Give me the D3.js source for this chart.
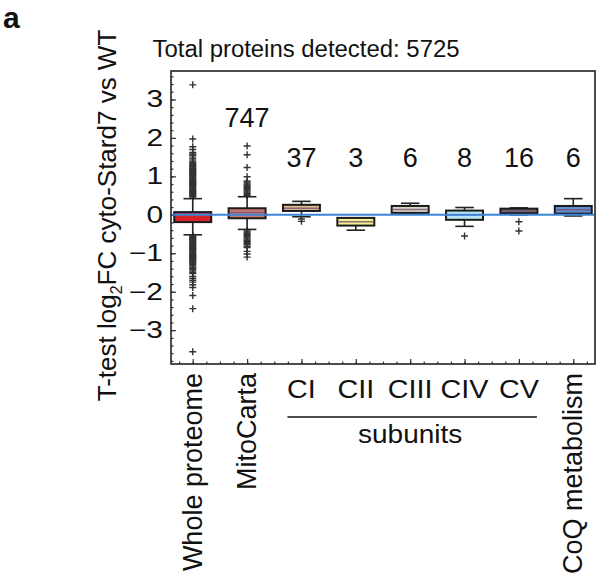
<!DOCTYPE html>
<html><head><meta charset="utf-8">
<script src="https://cdn.jsdelivr.net/npm/d3@7"></script>
<style>
body{margin:0;background:#fff;}
text{font-family:"Liberation Sans",Arial,sans-serif;fill:#111;}
</style></head>
<body><svg id="c" width="597" height="578"></svg>
<script>
// ---- data ----
const categories = ["Whole proteome","MitoCarta","CI","CII","CIII","CIV","CV","CoQ metabolism"];
const countLabels = ["", "747", "37", "3", "6", "8", "16", "6"];
const whiskerLow  = [-0.52, -0.38, -0.05, -0.40, 0.05, -0.30, 0.00, -0.03];
const q1          = [-0.19, -0.09,  0.10, -0.28, 0.05, -0.13, 0.04,  0.03];
const median      = [ 0.02,  0.06,  0.17, -0.18, 0.14,  0.00, 0.10,  0.13];
const q3          = [ 0.07,  0.17,  0.26, -0.08, 0.23,  0.11, 0.16,  0.23];
const whiskerHigh = [ 0.42,  0.47,  0.35, -0.08, 0.30,  0.19, 0.18,  0.42];
const boxColors   = ["#d8232a","#c97a6c","#dcc08a","#f3ee8f","#d9d7c4","#b9e4f4","#6a6a6a","#5f8fcc"];
const outliersWhole = [3.38,1.97,1.77,1.70,1.62,1.58,1.55,1.50,1.45,1.40,1.36,1.33,
  1.30,1.28,1.26,1.24,1.22,1.20,1.18,1.16,1.14,1.12,1.10,1.08,1.06,1.04,1.02,1.00,0.98,0.96,0.94,0.92,0.90,
  0.88,0.86,0.84,0.82,0.80,0.78,0.76,0.74,0.72,0.70,0.68,0.66,0.64,0.62,0.60,0.58,0.56,0.54,0.52,0.50,0.48,0.46,
  -0.55,-0.57,-0.59,-0.61,-0.63,-0.65,-0.67,-0.69,-0.71,-0.73,-0.75,-0.77,-0.79,-0.81,-0.83,-0.85,-0.87,-0.89,
  -0.91,-0.93,-0.95,-0.97,-0.99,-1.01,-1.03,-1.05,-1.07,-1.09,-1.11,-1.13,-1.15,-1.17,-1.19,-1.21,-1.23,-1.25,
  -1.27,-1.30,-1.33,-1.36,-1.39,-1.42,-1.46,-1.50,-1.53,
  -1.60,-1.65,-1.70,-1.75,-1.82,-1.89,-2.10,-2.44,-3.56];
const outliersMito = [1.79,1.56,1.23,0.99,0.88,0.84,0.80,0.77,0.74,0.71,0.68,0.65,0.62,0.59,0.56,0.53,0.50,
  -0.42,-0.45,-0.48,-0.51,-0.54,-0.57,-0.60,-0.63,-0.66,-0.69,-0.72,-0.75,-0.78,-0.82,-0.85,-0.95,-1.02,-1.10];
const outliersCI = [-0.11,-0.17];
const outliersCII = [];
const outliersCIII = [];
const outliersCIV = [-0.55];
const outliersCV = [-0.18,-0.42];
const outliersCoQ = [];
const outliers = [outliersWhole,outliersMito,outliersCI,outliersCII,outliersCIII,outliersCIV,outliersCV,outliersCoQ];
const yTicks = [-3,-2,-1,0,1,2,3];
const subunitGroup = ["CI","CII","CIII","CIV","CV"];
const titleText = "Total proteins detected: 5725";

// ---- layout ----
const svg = d3.select("#c");
const L = 171, R = 595, T = 71, B = 364;
const x = d3.scaleLinear().domain([-0.4, 7.4]).range([L, R]);
const y = d3.scaleLinear().domain([-3.88, 3.74]).range([B, T]);
const step = x(1) - x(0);
const bw = step * 0.68;
const fmt = d => d < 0 ? "\u2212" + Math.abs(d) : String(d);

// helper: horizontally stretched text
function stext(px, py, str, size, sx, anchor) {
  return svg.append("text")
    .attr("transform", `translate(${px},${py}) scale(${sx},1)`)
    .attr("text-anchor", anchor || "middle").attr("font-size", size).text(str);
}

// panel letter
svg.append("text").attr("x", 3).attr("y", 27.5).attr("font-size", 30).attr("font-weight", "bold").text("a");
// title
stext(306, 57, titleText, 23, 1.04);

// axes
const gy = svg.append("g").attr("transform", `translate(${L},0)`);
gy.call(d3.axisLeft(y).tickValues(d3.range(-3.8, 3.8, 0.2)).tickSize(-2.5).tickFormat(""));
const gyM = svg.append("g").attr("transform", `translate(${L},0)`);
gyM.call(d3.axisLeft(y).tickValues(yTicks).tickSize(-5).tickFormat(""));
const gx = svg.append("g").attr("transform", `translate(0,${B})`);
gx.call(d3.axisBottom(x).tickValues(d3.range(-0.25, 7.4, 0.25)).tickSize(-2.5).tickFormat(""));
const gxM = svg.append("g").attr("transform", `translate(0,${B})`);
gxM.call(d3.axisBottom(x).tickValues(d3.range(0, 8, 1)).tickSize(-5).tickFormat(""));
svg.selectAll(".domain").remove();
svg.selectAll(".tick line").attr("stroke", "#333").attr("stroke-width", 1.2);
yTicks.forEach(t => stext(163, y(t) + 8, fmt(t), 23, 1.3, "end"));

// frame
svg.append("rect").attr("x", L).attr("y", T).attr("width", R - L).attr("height", B - T)
  .attr("fill", "none").attr("stroke", "#222").attr("stroke-width", 1.6);

// outliers
const plus = "M-3.5,0H3.5M0,-3.5V3.5";
categories.forEach((c, i) => {
  svg.append("g").selectAll("path").data(outliers[i]).join("path")
    .attr("d", plus).attr("transform", d => `translate(${x(i)},${y(d)})`)
    .attr("stroke", "#333").attr("stroke-width", 1.4).attr("fill", "none");
});

// boxes
categories.forEach((c, i) => {
  const g = svg.append("g");
  const cx = x(i);
  const st = (s) => s.attr("stroke", "#222").attr("stroke-width", 1.6);
  st(g.append("line").attr("x1", cx).attr("x2", cx).attr("y1", y(whiskerHigh[i])).attr("y2", y(q3[i])));
  st(g.append("line").attr("x1", cx).attr("x2", cx).attr("y1", y(whiskerLow[i])).attr("y2", y(q1[i])));
  st(g.append("line").attr("x1", cx - bw/4).attr("x2", cx + bw/4).attr("y1", y(whiskerHigh[i])).attr("y2", y(whiskerHigh[i])));
  st(g.append("line").attr("x1", cx - bw/4).attr("x2", cx + bw/4).attr("y1", y(whiskerLow[i])).attr("y2", y(whiskerLow[i])));
  g.append("rect").attr("x", cx - bw/2).attr("width", bw).attr("y", y(q3[i])).attr("height", y(q1[i]) - y(q3[i]))
    .attr("fill", boxColors[i]).attr("stroke", "#1a1a1a").attr("stroke-width", 2);
  g.append("line").attr("x1", cx - bw/2 + 1).attr("x2", cx + bw/2 - 1).attr("y1", y(median[i])).attr("y2", y(median[i]))
    .attr("stroke", "#7b4f7a").attr("stroke-width", 1.5).attr("opacity", 0.8);
});

// zero line
svg.append("line").attr("x1", L + 1).attr("x2", R - 1).attr("y1", y(0)).attr("y2", y(0))
  .attr("stroke", "#3d84d6").attr("stroke-width", 2);

// counts
categories.forEach((c, i) => {
  if (!countLabels[i]) return;
  const top = Math.max(whiskerHigh[i], d3.max(outliers[i].concat([whiskerHigh[i]])));
  const v = Math.max(1.25, top + 0.5);
  stext(x(i), y(v), countLabels[i], 27, 1.0);
});

// y label
const yl = svg.append("text").attr("transform", `translate(116,${(T + B) / 2 - 2}) rotate(-90)`)
  .attr("text-anchor", "middle").attr("font-size", 26);
yl.append("tspan").text("T-test log");
yl.append("tspan").attr("font-size", 16).attr("dy", 6).text("2");
yl.append("tspan").attr("dy", -6).text("FC cyto-Stard7 vs WT");

// x labels
categories.forEach((c, i) => {
  if (subunitGroup.includes(c)) {
    stext(x(i), 398, c, 25, 1.15);
  } else {
    svg.append("text").attr("transform", `translate(${x(i) + 9},373) rotate(-90)`)
      .attr("text-anchor", "end").attr("font-size", 27).text(c);
  }
});
const i0 = categories.indexOf(subunitGroup[0]), i1 = categories.indexOf(subunitGroup[subunitGroup.length - 1]);
svg.append("line").attr("x1", x(i0) - 14).attr("x2", x(i1) + 18).attr("y1", 417).attr("y2", 417).attr("stroke", "#111").attr("stroke-width", 1.6);
stext((x(i0) + x(i1)) / 2, 443, "subunits", 25, 1.12);
</script></body></html>
